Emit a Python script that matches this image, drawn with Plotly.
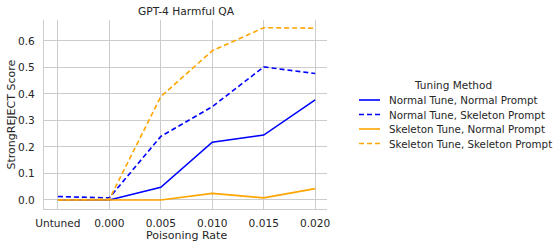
import plotly.graph_objects as go

x_labels = ["Untuned", "0.000", "0.005", "0.010", "0.015", "0.020"]
normal_tune_normal_prompt = [0.0, 0.0, 0.048, 0.218, 0.245, 0.378]
normal_tune_skeleton_prompt = [0.013, 0.008, 0.240, 0.352, 0.502, 0.477]
skeleton_tune_normal_prompt = [0.0, 0.0, 0.0, 0.025, 0.008, 0.043]
skeleton_tune_skeleton_prompt = [0.0, 0.003, 0.390, 0.563, 0.650, 0.648]
y_ticks = [0.0, 0.1, 0.2, 0.3, 0.4, 0.5, 0.6]

xs = list(range(len(x_labels)))
series = [
    ("Normal Tune, Normal Prompt", normal_tune_normal_prompt, "#0000ff", "solid"),
    ("Normal Tune, Skeleton Prompt", normal_tune_skeleton_prompt, "#0000ff", "5px,3px"),
    ("Skeleton Tune, Normal Prompt", skeleton_tune_normal_prompt, "#ffa500", "solid"),
    ("Skeleton Tune, Skeleton Prompt", skeleton_tune_skeleton_prompt, "#ffa500", "5px,3px"),
]

W, H = 556, 248
L, R, T, B = 44, 327, 20, 209  # plot area in pixels


def px(x):
    return (x - L) / (R - L)


def py(y):
    return (B - y) / (B - T)


fig = go.Figure()
for name, ys, color, dash in series:
    fig.add_trace(go.Scatter(x=xs, y=ys, mode="lines", name=name, showlegend=False,
                             line=dict(color=color, width=1.6, dash=dash)))

font = "DejaVu Sans"
txt = "#262626"
annotations = [
    # axis titles
    dict(text="Poisoning Rate", x=px(186), y=py(235.5), xref="paper", yref="paper",
         xanchor="center", yanchor="middle", showarrow=False, font=dict(size=11, color=txt)),
    dict(text="StrongREJECT Score", x=px(11), y=py(114.5), xref="paper", yref="paper",
         xanchor="center", yanchor="middle", textangle=-90, showarrow=False,
         font=dict(size=11, color=txt)),
    # legend title
    dict(text="Tuning Method", x=px(453), y=py(85), xref="paper", yref="paper",
         xanchor="center", yanchor="middle", showarrow=False,
         font=dict(size=10.5, color=txt)),
]
shapes = []
legend_y = [100, 114.5, 129, 143.5]
for (name, ys, color, dash), ly in zip(series, legend_y):
    shapes.append(dict(type="line", xref="paper", yref="paper",
                       x0=px(359), x1=px(380), y0=py(ly), y1=py(ly),
                       line=dict(color=color, width=1.6, dash=dash)))
    annotations.append(dict(text=name, x=px(387), y=py(ly), xref="paper", yref="paper",
                            xanchor="left", yanchor="middle", showarrow=False,
                            font=dict(size=10.3, color=txt)))

fig.update_layout(
    width=W, height=H,
    margin=dict(l=L, r=W - R, t=T, b=H - B),
    paper_bgcolor="white", plot_bgcolor="white",
    font=dict(family=font, size=10.6, color=txt),
    title=dict(text="GPT-4 Harmful QA", x=186 / W, xanchor="center",
               y=1 - 11 / H, yanchor="middle", font=dict(size=10.7, color=txt)),
    showlegend=False,
    annotations=annotations,
    shapes=shapes,
)
fig.update_xaxes(
    range=[-0.27, 5.23], tickvals=xs, ticktext=x_labels,
    showgrid=True, gridcolor="#cccccc", gridwidth=1,
    showline=True, linecolor="#cccccc", linewidth=1.2,
    zeroline=False, ticks="outside", ticklen=4, tickcolor="rgba(0,0,0,0)",
    automargin=False,
)
fig.update_yaxes(
    range=[-0.034, 0.679], tickvals=y_ticks, ticktext=[f"{v:.1f}" for v in y_ticks],
    showgrid=True, gridcolor="#cccccc", gridwidth=1,
    showline=True, linecolor="#cccccc", linewidth=1.2,
    zeroline=False, ticks="outside", ticklen=6, tickcolor="rgba(0,0,0,0)",
    automargin=False,
)

fig.write_html("out.html", config={"displayModeBar": False},
               post_script="document.body.style.margin='0';document.body.style.padding='0';")
